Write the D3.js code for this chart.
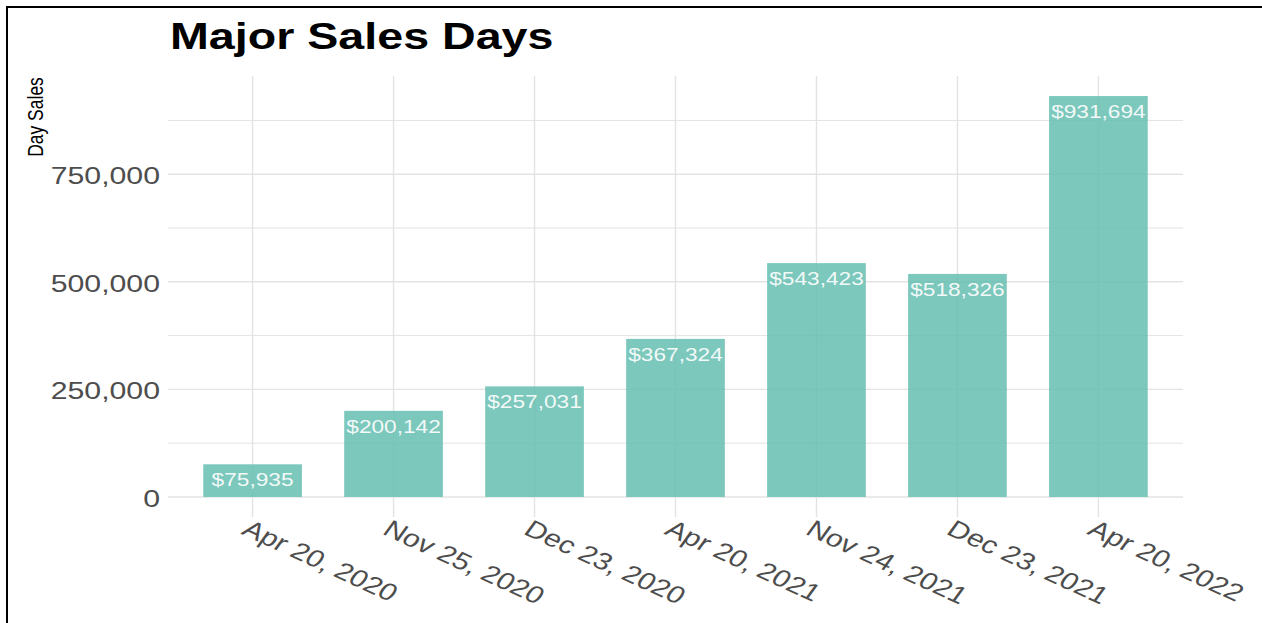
<!DOCTYPE html>
<html>
<head>
<meta charset="utf-8">
<script src="https://cdn.jsdelivr.net/npm/d3@7"></script>
<style>
  body { margin: 0; background: #fff; }
  text { font-family: "Liberation Sans", Arial, sans-serif; }
</style>
</head>
<body>
<div id="chart"></div>
<script>
// data
const days = ["Apr 20, 2020", "Nov 25, 2020", "Dec 23, 2020", "Apr 20, 2021",
              "Nov 24, 2021", "Dec 23, 2021", "Apr 20, 2022"];
const sales = [75935, 200142, 257031, 367324, 543423, 518326, 931694];
const majorTicks = [0, 250000, 500000, 750000];
const minorTicks = [125000, 375000, 625000, 875000];

const width = 1262, height = 623;
// the picture is stretched sideways, so text gets the same stretch
const sx = 1.26;
const panel = {left: 168, right: 1183, top: 76, bottom: 517};

const svg = d3.select('#chart').append('svg')
    .attr('width', width)
    .attr('height', height);

// outer frame (top and left only visible)
svg.append('path')
    .attr('d', `M7,${height} L7,7 L${width},7`)
    .attr('fill', 'none')
    .attr('stroke', '#000')
    .attr('stroke-width', 2);

const x = d3.scaleBand()
    .domain(days)
    .range([panel.left, panel.right])
    .paddingInner(0.3)
    .paddingOuter(0.25);

// ggplot style 5% expansion
const ymax = d3.max(sales);
const y = d3.scaleLinear()
    .domain([-0.05 * ymax, 1.05 * ymax])
    .range([panel.bottom, panel.top]);

const grid = svg.append('g').attr('stroke', '#e3e3e3');

grid.selectAll('.minor')
    .data(minorTicks)
    .join('line')
        .attr('x1', panel.left).attr('x2', panel.right)
        .attr('y1', d => y(d)).attr('y2', d => y(d))
        .attr('stroke-width', 1);

grid.selectAll('.major')
    .data(majorTicks)
    .join('line')
        .attr('class', 'major')
        .attr('x1', panel.left).attr('x2', panel.right)
        .attr('y1', d => y(d)).attr('y2', d => y(d))
        .attr('stroke-width', 1.4);

grid.selectAll('.vert')
    .data(days)
    .join('line')
        .attr('class', 'vert')
        .attr('x1', d => x(d) + x.bandwidth() / 2)
        .attr('x2', d => x(d) + x.bandwidth() / 2)
        .attr('y1', panel.top).attr('y2', panel.bottom)
        .attr('stroke-width', 1.4);

// bars
svg.append('g').selectAll('rect')
    .data(sales)
    .join('rect')
        .attr('x', (d, i) => x(days[i]))
        .attr('y', d => y(d))
        .attr('width', x.bandwidth())
        .attr('height', d => y(0) - y(d))
        .attr('fill', '#65beb0')
        .attr('fill-opacity', 0.85);

// value labels
const fmt = d3.format(',');
svg.append('g').selectAll('text')
    .data(sales)
    .join('text')
        .attr('transform', (d, i) =>
            `translate(${x(days[i]) + x.bandwidth() / 2},${y(d) + 22}) scale(${sx},1)`)
        .attr('text-anchor', 'middle')
        .attr('font-size', 18)
        .attr('fill', '#fff')
        .attr('fill-opacity', 0.92)
        .text(d => '$' + fmt(d));

// y tick labels
svg.append('g').selectAll('text')
    .data(majorTicks)
    .join('text')
        .attr('transform', d => `translate(160,${y(d) + 10}) scale(${sx},1)`)
        .attr('text-anchor', 'end')
        .attr('font-size', 24)
        .attr('fill', '#4d4d4d')
        .text(d => fmt(d));

// x tick labels, rotated
svg.append('g').selectAll('text')
    .data(days)
    .join('text')
        .attr('transform', d =>
            `translate(${x(d) + x.bandwidth() / 2 - 1},518) scale(${sx},1) rotate(30)`)
        .attr('dy', '0.75em')
        .attr('font-size', 24)
        .attr('fill', '#4d4d4d')
        .text(d => d);

// axis title
svg.append('text')
    .attr('transform', `translate(42.5,117) scale(${sx},1) rotate(-90)`)
    .attr('text-anchor', 'middle')
    .attr('font-size', 17.5)
    .attr('fill', '#000')
    .text('Day Sales');

// title
svg.append('text')
    .attr('transform', `translate(170,49) scale(${sx},1)`)
    .attr('font-size', 37)
    .attr('font-weight', 'bold')
    .attr('fill', '#000')
    .text('Major Sales Days');
</script>
</body>
</html>
